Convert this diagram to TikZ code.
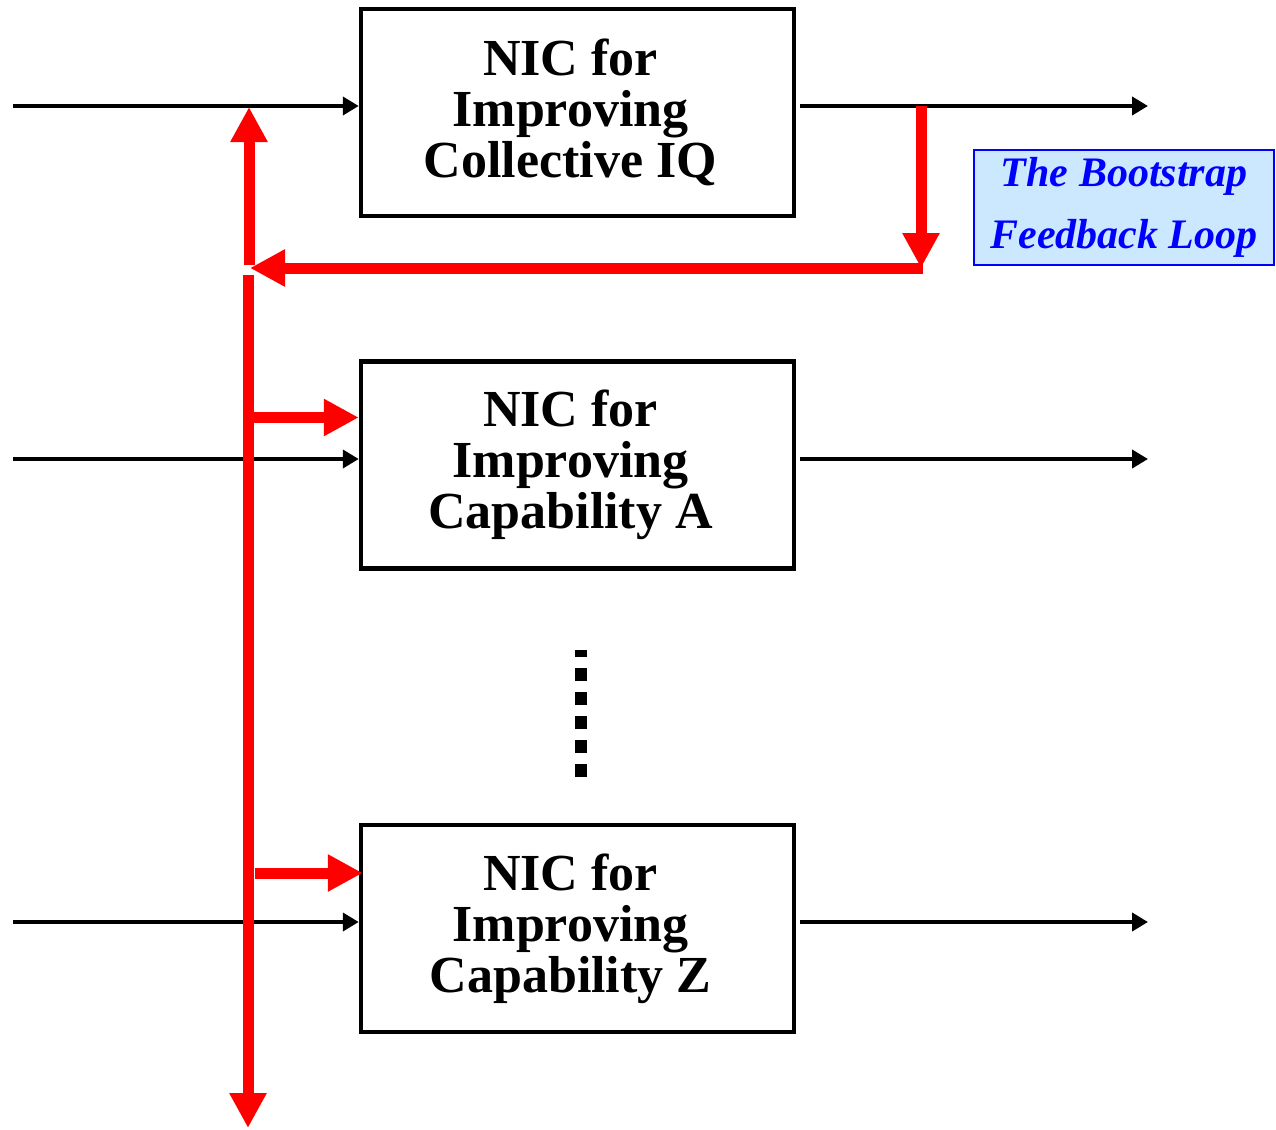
\documentclass[tikz,border=0pt]{standalone}
\usepackage{fontspec}
\setmainfont{Liberation Serif}
\usetikzlibrary{arrows.meta}
\newlength{\du}
\setlength{\du}{1pt}
\definecolor{loopred}{rgb}{1.000000, 0.000000, 0.000000}
\definecolor{loopblue}{rgb}{0.000000, 0.000000, 1.000000}
\definecolor{loopfill}{rgb}{0.800000, 0.910000, 1.000000}
\tikzset{
  nicbox/.style={draw=black, line width=4.5\du, minimum width=433\du, minimum height=207\du,
    inner sep=0pt},
  nictext/.style={inner sep=0pt, align=center, xshift=-7\du,
    font=\fontsize{52}{51}\selectfont\bfseries},
  flow/.style={draw=black, line width=4\du, -{Triangle[length=16pt,width=18pt]}},
  feedback/.style={draw=loopred, line width=11\du, -{Triangle[length=35pt,width=35pt]}},
  loopnote/.style={draw=loopblue, fill=loopfill, line width=2\du, minimum width=300\du,
    minimum height=115\du, inner sep=0pt, align=center, text=loopblue,
    font=\fontsize{42}{62}\selectfont\bfseries\itshape},
}

\begin{document}
\begin{tikzpicture}
\pgftransformxscale{1.000000}
\pgftransformyscale{-1.000000}
\useasboundingbox (0\du,0\du) rectangle (1276\du,1129\du);
% boxes
\node[nicbox] (iq) at (577.5\du,112.5\du){};
\node[nicbox] (capa) at (577.5\du,465\du){};
\node[nicbox] (capz) at (577.5\du,928.5\du){};
% setfont left to latex
\node[nictext] (iq text) at (iq.center){NIC for\\Improving\\Collective IQ};
\node[nictext] (capa text) at (capa.center){NIC for\\Improving\\Capability A};
\node[nictext] (capz text) at (capz.center){NIC for\\Improving\\Capability Z};
\node[loopnote] (note) at (1124\du,207.5\du){The Bootstrap\\Feedback Loop};
% free ends
\coordinate (iq in) at (13\du,106\du);
\coordinate (iq out) at (1148\du,106\du);
\coordinate (capa in) at (13\du,459\du);
\coordinate (capa out) at (1148\du,459\du);
\coordinate (capz in) at (13\du,922\du);
\coordinate (capz out) at (1148\du,922\du);
\coordinate (spine top) at (249\du,107\du);
\coordinate (spine gap) at (249\du,265\du);
\coordinate (spine start) at (248\du,275\du);
\coordinate (spine end) at (248\du,1128\du);
\coordinate (tap) at (921\du,106\du);
\coordinate (turn) at (921\du,268\du);
\coordinate (join) at (250\du,268\du);
\coordinate (capa tap) at (250\du,417.5\du);
\coordinate (capz tap) at (255\du,873\du);
\coordinate (dots top) at (581\du,650\du);
\coordinate (dots bottom) at (581\du,778\du);
% black flow
\draw[flow] (iq in) -- (iq in -| iq.west);
\draw[flow] ([xshift=4\du]iq.east |- iq out) -- (iq out);
\draw[flow] (capa in) -- (capa in -| capa.west);
\draw[flow] ([xshift=4\du]capa.east |- capa out) -- (capa out);
\draw[flow] (capz in) -- (capz in -| capz.west);
\draw[flow] ([xshift=4\du]capz.east |- capz out) -- (capz out);
% red feedback loop
\draw[feedback] (tap) -- (turn);
\draw[feedback] ([xshift=2\du]turn) -- (join);
\draw[feedback] (spine gap) -- (spine top);
\draw[feedback] (spine start) -- (spine end);
\draw[feedback] (capa tap) -- (capa tap -| capa.west);
\draw[feedback] (capz tap) -- ([xshift=4\du]capz tap -| capz.west);
% was here!!!
\draw[line width=12\du, dash pattern=on 13\du off 11\du, dash phase=6\du] (dots top) -- (dots bottom);
\end{tikzpicture}
\end{document}
